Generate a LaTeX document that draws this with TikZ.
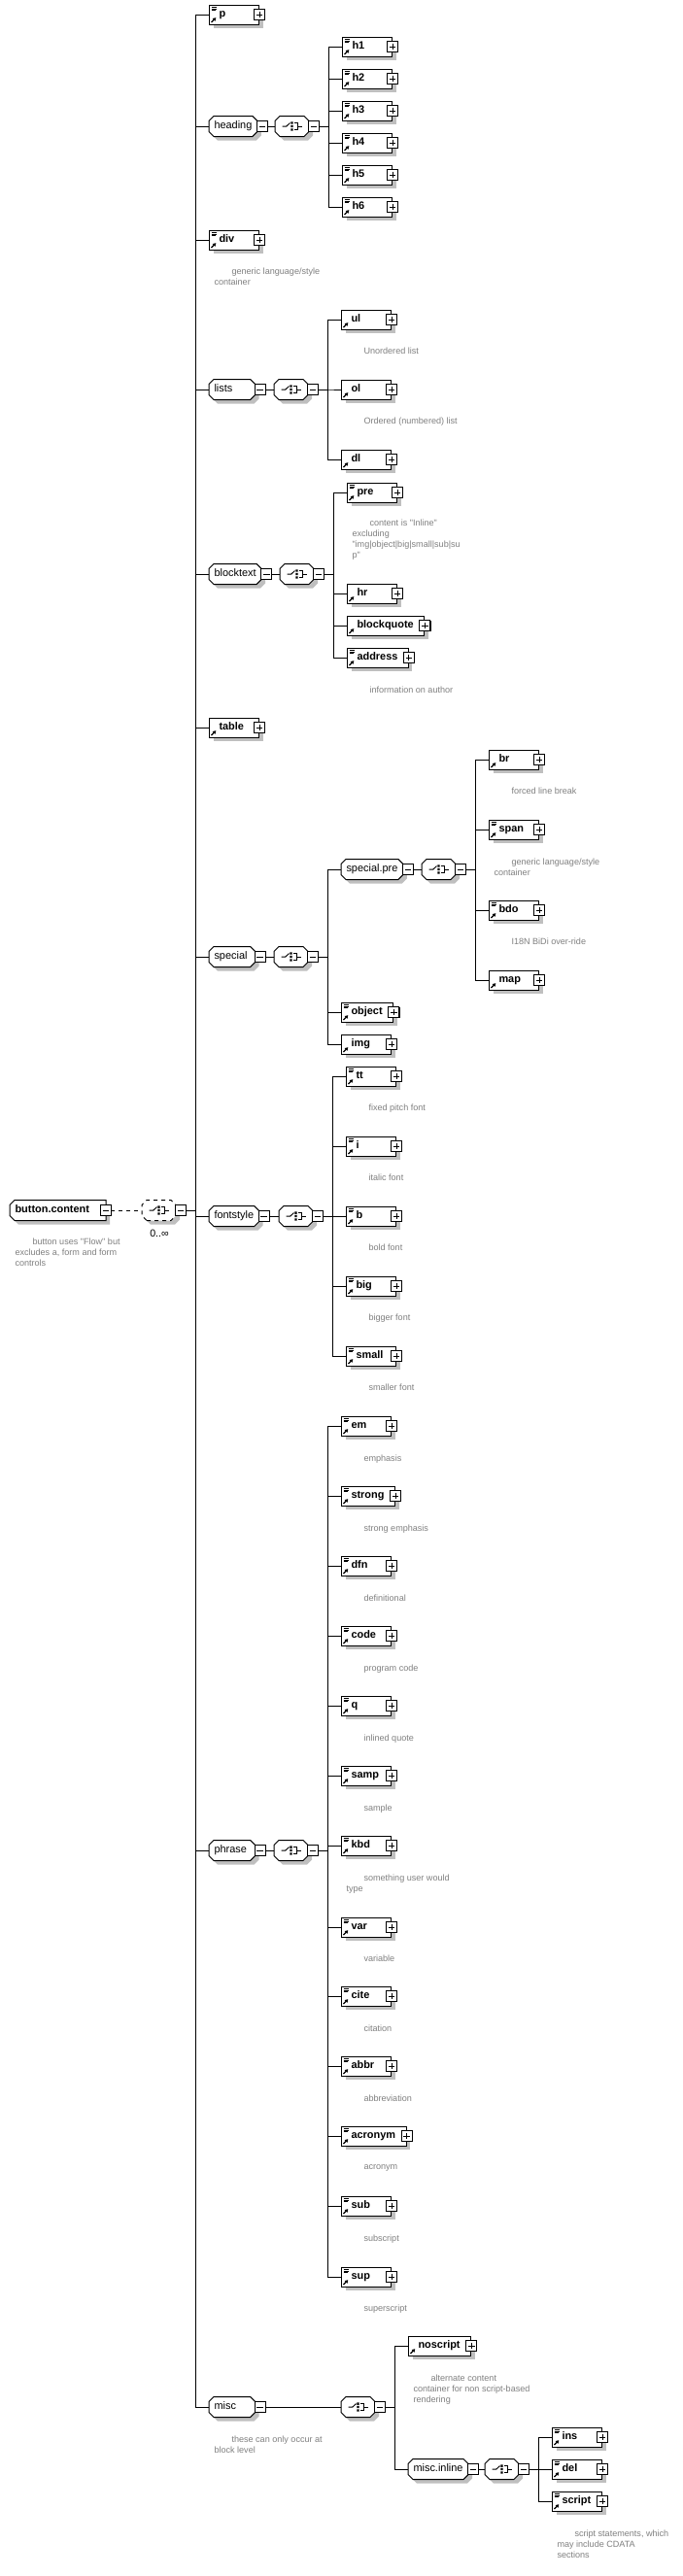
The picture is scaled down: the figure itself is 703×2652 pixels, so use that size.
\documentclass[tikz,border=0pt]{standalone}
\usepackage{fontspec}
\setmainfont{Liberation Sans}[Ligatures=TeXOff]
\usetikzlibrary{shadows,arrows.meta}

\makeatletter
\def\octo@path#1{%
  \southwest\edef\oxa{\the\pgf@x}\edef\oya{\the\pgf@y}%
  \northeast\edef\oxb{\the\pgf@x}\edef\oyb{\the\pgf@y}%
  \pgfpathmoveto{\pgfpoint{\oxa+3.75pt}{\oya}}%
  \pgfpathlineto{\pgfpoint{\oxb-#1}{\oya}}%
  \pgfpathlineto{\pgfpoint{\oxb}{\oya+#1}}%
  \pgfpathlineto{\pgfpoint{\oxb}{\oyb-#1}}%
  \pgfpathlineto{\pgfpoint{\oxb-#1}{\oyb}}%
  \pgfpathlineto{\pgfpoint{\oxa+3.75pt}{\oyb}}%
  \pgfpathlineto{\pgfpoint{\oxa}{\oyb-3.75pt}}%
  \pgfpathlineto{\pgfpoint{\oxa}{\oya+3.75pt}}%
  \pgfpathclose}
\pgfdeclareshape{octo}{%
  \inheritsavedanchors[from=rectangle]%
  \inheritanchorborder[from=rectangle]%
  \inheritanchor[from=rectangle]{center}%
  \inheritanchor[from=rectangle]{north}%
  \inheritanchor[from=rectangle]{south}%
  \inheritanchor[from=rectangle]{east}%
  \inheritanchor[from=rectangle]{west}%
  \inheritanchor[from=rectangle]{base}%
  \backgroundpath{\octo@path{3.75pt}}}
\pgfdeclareshape{lefto}{%
  \inheritsavedanchors[from=rectangle]%
  \inheritanchorborder[from=rectangle]%
  \inheritanchor[from=rectangle]{center}%
  \inheritanchor[from=rectangle]{north}%
  \inheritanchor[from=rectangle]{south}%
  \inheritanchor[from=rectangle]{east}%
  \inheritanchor[from=rectangle]{west}%
  \inheritanchor[from=rectangle]{base}%
  \backgroundpath{\octo@path{0pt}}}
\makeatother

\newcommand\arrowmark{\draw[solid,line width=0.9pt,-{Triangle[length=2.4pt,width=2.8pt]}] ([shift={(1.5pt,1.5pt)}]path picture bounding box.south west) -- ++(3.6pt,3.6pt);}
\newcommand\docmark{\draw[solid,line width=0.5pt] ([shift={(1.5pt,-1.6pt)}]path picture bounding box.north west) -- ++(4.2pt,0) ++(-4.2pt,-1.3pt) -- ++(4.2pt,0) ++(-4.2pt,-1.3pt) -- ++(3.4pt,0);}

\tikzset{
  shade box/.style={drop shadow={shadow xshift=3pt,shadow yshift=-3pt,fill=black!25,opacity=1}},
  lefttext/.style n args={3}{execute at begin node={\kern#1\setbox0=\hbox\bgroup},
    execute at end node={\egroup\ifdim\wd0<#2\relax\wd0=#2\relax\fi\box0\kern#3}},
  pm/.style={draw,solid,line width=0.75pt,fill=white,minimum size=8.25pt,inner sep=0pt,
    drop shadow={shadow xshift=0.6pt,shadow yshift=-0.6pt,fill=black,opacity=1}},
  hbar/.style={path picture={\draw[line width=0.75pt] ([xshift=1.6pt]path picture bounding box.west) -- ([xshift=-1.6pt]path picture bounding box.east);}},
  cross/.style={path picture={\draw[line width=0.75pt] ([xshift=1.6pt]path picture bounding box.west) -- ([xshift=-1.6pt]path picture bounding box.east) ([yshift=-1.6pt]path picture bounding box.north) -- ([yshift=1.6pt]path picture bounding box.south);}},
  plus/.style={label={[pm,cross,anchor=center]east:{}}},
  minus/.style={label={[pm,hbar,anchor=west,xshift=-0.75pt]east:{}}},
  elem/.style={draw,fill=white,shade box,anchor=west,minimum height=15pt,inner sep=0pt,
    text height=6pt,text depth=1.7pt,font=\fontsize{8.2}{9}\bfseries\selectfont,
    lefttext={7.5pt}{22.5pt}{8.25pt},plus,path picture={\arrowmark}},
  doc/.style={elem,path picture={\arrowmark\docmark}},
  grp/.style={octo,draw,fill=white,shade box,anchor=west,minimum height=15pt,
    inner xsep=3.75pt,inner ysep=0pt,text height=5.8pt,text depth=1.7pt,
    font=\fontsize{8.2}{9}\selectfont,lefttext={0pt}{27.5pt}{0pt},minus},
  cmp/.style={octo,draw,fill=white,shade box,anchor=west,minimum height=15pt,minimum width=25.5pt,
    inner sep=0pt,minus,
    path picture={\begin{scope}[shift={(path picture bounding box.center)},x=1pt,y=1pt,solid,line width=0.75pt]
      \draw (-7.5,0) -- (-4.2,0) -- (-1.5,2.6);
      \fill[black] (-0.9,1.7) rectangle (0.9,3.5) (-0.9,-0.9) rectangle (0.9,0.9) (-0.9,-3.5) rectangle (0.9,-1.7);
      \draw (1.8,2.6) -- (4.2,2.6) -- (4.2,-2.6) -- (1.8,-2.6) (4.2,0) -- (7.5,0);
    \end{scope}}},
  root/.style={lefto,draw,fill=white,shade box,anchor=west,minimum height=15pt,
    inner xsep=3.75pt,inner ysep=0pt,text height=6pt,text depth=1.7pt,
    font=\fontsize{8.2}{9}\bfseries\selectfont,lefttext={0pt}{66pt}{0pt},
    label={[pm,hbar,anchor=center]east:{}}},
  note/.style={anchor=north west,inner sep=0pt,yshift=0.75pt,align=left,text=black!50,
    font=\fontsize{6.8}{8.25}\selectfont}
}

\begin{document}
\begin{tikzpicture}[x=0.75pt,y=-0.75pt,line width=0.75pt]
	    \fill[white] (0,0) rectangle (703,2652); % page
	    \useasboundingbox (0,0) rectangle (703,2652);
	    % root group with its choice
	    \node[root] (root) at (10,1246) {button.content};
	    \node[note] (rootN) at (15,1275) {\hspace*{13.5pt}button uses "Flow" but\\excludes a, form and form\\controls};
	    \node[cmp,dashed] (rc) at (146,1246) {};
	    \node[font=\fontsize{8}{9}\selectfont,inner sep=0pt] (rcN) at (164,1270) {0..∞};
	    % first level
	    \node[doc] (p) at (215,15) {p};
	    \node[grp] (hd) at (215,130) {heading};
	    \node[cmp] (hdc) at (283,130) {};
	    \node[doc] (h1) at (352,48) {h1};
	    \node[doc] (h2) at (352,81) {h2};
	    \node[doc] (h3) at (352,114) {h3};
	    \node[doc] (h4) at (352,147) {h4};
	    \node[doc] (h5) at (352,180) {h5};
	    \node[doc] (h6) at (352,213) {h6};
	    \node[doc] (div) at (215,247) {div};
	    \node[note] (divN) at (220,276) {\hspace*{13.5pt}generic language/style\\container};
	    \node[grp] (ls) at (215,401) {lists};
	    \node[cmp] (lsc) at (282,401) {};
	    \node[elem] (ul) at (351,329) {ul};
	    \node[note] (ulN) at (356,358) {\hspace*{13.5pt}Unordered list};
	    \node[elem] (ol) at (351,401) {ol};
	    \node[note] (olN) at (356,430) {\hspace*{13.5pt}Ordered (numbered) list};
	    \node[elem] (dl) at (351,473) {dl};
	    \node[grp] (bt) at (215,591) {blocktext};
	    \node[cmp] (btc) at (288,591) {};
	    \node[doc] (pre) at (357,507) {pre};
	    \node[note] (preN) at (362,535) {\hspace*{13.5pt}content is "Inline"\\excluding\\"img|object|big|small|sub|su\\p"};
	    \node[elem] (hr) at (357,611) {hr};
	    \node[elem] (bq) at (357,644) {blockquote};
	    \node[doc] (addr) at (357,677) {address};
	    \node[note] (addrN) at (362,707) {\hspace*{13.5pt}information on author};
	    \node[elem] (table) at (215,749) {table};
	    \node[grp] (sp) at (215,985) {special};
	    \node[cmp] (spc) at (282,985) {};
	    \node[grp] (spre) at (351,895) {special.pre};
	    \node[cmp] (sprec) at (434,895) {};
	    \node[elem] (br) at (503,782) {br};
	    \node[note] (brN) at (508,811) {\hspace*{13.5pt}forced line break};
	    \node[doc] (span) at (503,854) {span};
	    \node[note] (spanN) at (508,884) {\hspace*{13.5pt}generic language/style\\container};
	    \node[doc] (bdo) at (503,937) {bdo};
	    \node[note] (bdoN) at (508,966) {\hspace*{13.5pt}I18N BiDi over-ride};
	    \node[elem] (map) at (503,1009) {map};
	    \node[doc] (object) at (351,1042) {object};
	    \node[elem] (img) at (351,1075) {img};
	    \node[grp] (fs) at (215,1252) {fontstyle};
	    \node[cmp] (fsc) at (287,1252) {};
	    \node[doc] (tt) at (356,1108) {tt};
	    \node[note] (ttN) at (361,1137) {\hspace*{13.5pt}fixed pitch font};
	    \node[doc] (i) at (356,1180) {i};
	    \node[note] (iN) at (361,1209) {\hspace*{13.5pt}italic font};
	    \node[doc] (b) at (356,1252) {b};
	    \node[note] (bN) at (361,1281) {\hspace*{13.5pt}bold font};
	    \node[doc] (big) at (356,1324) {big};
	    \node[note] (bigN) at (361,1353) {\hspace*{13.5pt}bigger font};
	    \node[doc] (small) at (356,1396) {small};
	    \node[note] (smallN) at (361,1425) {\hspace*{13.5pt}smaller font};
	    \node[grp] (ph) at (215,1905) {phrase};
	    \node[cmp] (phc) at (282,1905) {};
	    \node[doc] (em) at (351,1468) {em};
	    \node[note] (emN) at (356,1498) {\hspace*{13.5pt}emphasis};
	    \node[doc] (strong) at (351,1540) {strong};
	    \node[note] (strongN) at (356,1570) {\hspace*{13.5pt}strong emphasis};
	    \node[doc] (dfn) at (351,1612) {dfn};
	    \node[note] (dfnN) at (356,1642) {\hspace*{13.5pt}definitional};
	    \node[doc] (code) at (351,1684) {code};
	    \node[note] (codeN) at (356,1714) {\hspace*{13.5pt}program code};
	    \node[doc] (q) at (351,1756) {q};
	    \node[note] (qN) at (356,1786) {\hspace*{13.5pt}inlined quote};
	    \node[doc] (samp) at (351,1828) {samp};
	    \node[note] (sampN) at (356,1858) {\hspace*{13.5pt}sample};
	    \node[doc] (kbd) at (351,1900) {kbd};
	    \node[note] (kbdN) at (356,1930) {\hspace*{13.5pt}something user would\\type};
	    \node[doc] (var) at (351,1984) {var};
	    \node[note] (varN) at (356,2013) {\hspace*{13.5pt}variable};
	    \node[doc] (cite) at (351,2055) {cite};
	    \node[note] (citeN) at (356,2085) {\hspace*{13.5pt}citation};
	    \node[doc] (abbr) at (351,2127) {abbr};
	    \node[note] (abbrN) at (356,2157) {\hspace*{13.5pt}abbreviation};
	    \node[doc] (acro) at (351,2199) {acronym};
	    \node[note] (acroN) at (356,2229) {\hspace*{13.5pt}acronym};
	    \node[doc] (sub) at (351,2271) {sub};
	    \node[note] (subN) at (356,2301) {\hspace*{13.5pt}subscript};
	    \node[doc] (sup) at (351,2344) {sup};
	    \node[note] (supN) at (356,2373) {\hspace*{13.5pt}superscript};
	    \node[grp] (ms) at (215,2478) {misc};
	    \node[note] (msN) at (220,2508) {\hspace*{13.5pt}these can only occur at\\block level};
	    \node[cmp] (msc) at (351,2478) {};
	    \node[elem] (nos) at (420,2415) {noscript};
	    \node[note] (nosN) at (425,2445) {\hspace*{13.5pt}alternate content\\container for non script-based\\rendering};
	    \node[grp] (msi) at (420,2542) {misc.inline};
	    \node[cmp] (msic) at (499,2542) {};
	    \node[doc] (ins) at (568,2509) {ins};
	    \node[doc] (del) at (568,2542) {del};
	    \node[doc] (script) at (568,2575) {script};
	    \node[note] (scriptN) at (573,2605) {\hspace*{13.5pt}script statements, which\\may include CDATA\\sections};
	    % connectors
	    \draw[dashed] ([xshift=4.1pt]root.east) -- (rc.west);
	    \foreach \c in {p,hd,div,ls,bt,table,sp,fs,ph,ms}
	      \draw ([xshift=7.5pt]rc.east) -- ++(10,0) |- (\c.west);
	    \foreach \g/\k in {hd/hdc,ls/lsc,bt/btc,sp/spc,spre/sprec,fs/fsc,ph/phc,ms/msc,msi/msic}
	      \draw ([xshift=7.5pt]\g.east) -- (\k.west);
	    \foreach \c in {h1,h2,h3,h4,h5,h6}
	      \draw ([xshift=7.5pt]hdc.east) -- ++(10,0) |- (\c.west);
	    \foreach \c in {ul,ol,dl}
	      \draw ([xshift=7.5pt]lsc.east) -- ++(10,0) |- (\c.west);
	    \foreach \c in {pre,hr,bq,addr}
	      \draw ([xshift=7.5pt]btc.east) -- ++(10,0) |- (\c.west);
	    \foreach \c in {spre,object,img}
	      \draw ([xshift=7.5pt]spc.east) -- ++(10,0) |- (\c.west);
	    \foreach \c in {br,span,bdo,map}
	      \draw ([xshift=7.5pt]sprec.east) -- ++(10,0) |- (\c.west);
	    \foreach \c in {tt,i,b,big,small}
	      \draw ([xshift=7.5pt]fsc.east) -- ++(10,0) |- (\c.west);
	    \foreach \c in {em,strong,dfn,code,q,samp,kbd,var,cite,abbr,acro,sub,sup}
	      \draw ([xshift=7.5pt]phc.east) -- ++(10,0) |- (\c.west);
	    \foreach \c in {nos,msi}
	      \draw ([xshift=7.5pt]msc.east) -- ++(10,0) |- (\c.west);
	    \foreach \c in {ins,del,script}
	      \draw ([xshift=7.5pt]msic.east) -- ++(10,0) |- (\c.west);
	    \end{tikzpicture}
\end{document}
